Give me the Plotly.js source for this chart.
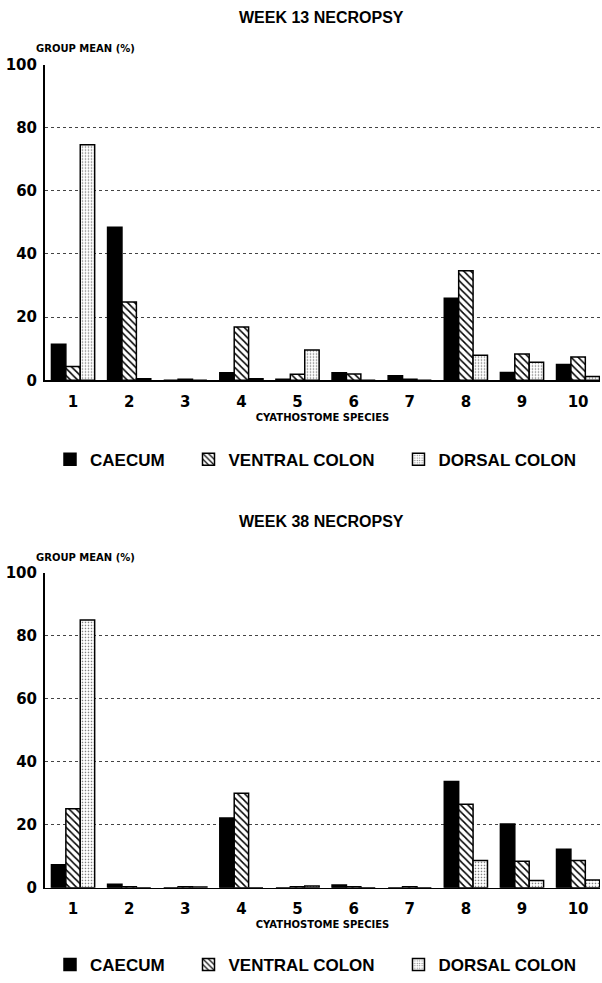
<!DOCTYPE html>
<html>
<head>
<meta charset="utf-8">
<script src="https://cdn.plot.ly/plotly-3.0.1.min.js"></script>
<style>html,body{margin:0;padding:0;background:#fff;}#chart{width:602px;height:983px;}</style>
</head>
<body>
<div id="chart"></div>
<script>
// ---- data ----
const species = [1, 2, 3, 4, 5, 6, 7, 8, 9, 10];
const tickLabels = ['1', '2', '3', '4', '5', '6', '7', '8', '9', '10'];
const seriesNames = ['CAECUM', 'VENTRAL COLON', 'DORSAL COLON'];
const titles = ['WEEK 13 NECROPSY', 'WEEK 38 NECROPSY'];

const caecum13  = [11.4, 48.5, 0,   2.4, 0.3, 2.4, 1.4, 26.0, 2.5, 5.0];
const ventral13 = [4.4,  24.8, 0.3, 16.9, 1.9, 2.0, 0.3, 34.7, 8.3, 7.4];
const dorsal13  = [74.6, 0.5,  0,   0.5, 9.6, 0,   0,   7.9,  5.7, 1.2];

const caecum38  = [7.3,  1.1,  0,   22.1, 0,   0.8, 0,   33.7, 20.2, 12.2];
const ventral38 = [25.1, 0.3,  0.3, 30.0, 0.3, 0.3, 0.3, 26.5, 8.4,  8.6];
const dorsal38  = [85.0, 0,    0.2, 0,    0.5, 0,   0,   8.6,  2.3,  2.4];

// ---- styling helpers ----
const H = 983, W = 602;
const py = p => 1 - p / H;
const pxX = p => p / W;
const pad = '\u00a0\u00a0\u00a0\u00a0';
const legendNames = [seriesNames[0] + pad, seriesNames[1] + pad, seriesNames[2]];

const styles = [
  {color: 'black', line: {color: 'black', width: 1.5}},
  {color: 'white', line: {color: 'black', width: 1.5},
   pattern: {shape: '\\', size: 5, solidity: 0.3, fgcolor: 'black', bgcolor: 'white'}},
  {color: 'white', line: {color: 'black', width: 1.5},
   pattern: {shape: '.', size: 3, solidity: 0.22, fgcolor: '#777', bgcolor: 'white'}}
];

function mk(i, y, xa, ya, leg) {
  return {
    type: 'bar', x: species, y: y, name: legendNames[i],
    xaxis: xa, yaxis: ya, legend: leg,
    marker: styles[i], hoverinfo: 'skip'
  };
}

const data = [
  mk(0, caecum13, 'x', 'y', 'legend'),
  mk(1, ventral13, 'x', 'y', 'legend'),
  mk(2, dorsal13, 'x', 'y', 'legend'),
  mk(0, caecum38, 'x2', 'y2', 'legend2'),
  mk(1, ventral38, 'x2', 'y2', 'legend2'),
  mk(2, dorsal38, 'x2', 'y2', 'legend2')
];

const tickFont = {family: 'DejaVu Sans', size: 15, color: 'black', weight: 'bold'};
const smallFont = {family: 'DejaVu Sans', size: 10, color: 'black', weight: 'bold'};
const bigFont = {family: 'Liberation Sans', size: 16, color: 'black', weight: 'bold'};
const legFont = {family: 'Liberation Sans', size: 17, color: 'black', weight: 'bold'};

function xax(anchor) {
  return {
    anchor: anchor, domain: [pxX(45), pxX(600)], range: [0.5, 10.39],
    tickvals: species, ticktext: tickLabels, ticks: '', showgrid: false,
    zeroline: false, showline: true, linecolor: 'black', linewidth: 1.5,
    tickfont: tickFont, ticklabelstandoff: 7, fixedrange: true,
    title: {text: 'CYATHOSTOME SPECIES', font: smallFont, standoff: 4}
  };
}
function yax(anchor, top, bottom) {
  return {
    anchor: anchor, domain: [py(bottom), py(top)], range: [0, 100], dtick: 20,
    showgrid: true, gridcolor: '#444', griddash: 'dot', gridwidth: 1,
    zeroline: false, showline: true, linecolor: 'black', linewidth: 2,
    ticks: '', tickfont: tickFont, ticklabelstandoff: 3, fixedrange: true
  };
}

const legendBase = {
  orientation: 'h', xanchor: 'left', yanchor: 'middle', x: pxX(50),
  font: legFont, bgcolor: 'rgba(0,0,0,0)', itemclick: false, itemdoubleclick: false
};

const layout = {
  width: W, height: H,
  margin: {l: 0, r: 0, t: 0, b: 0},
  paper_bgcolor: 'white', plot_bgcolor: 'white',
  barmode: 'group', bargap: 0.23, bargroupgap: 0,
  showlegend: true,
  xaxis: xax('y'), yaxis: yax('x', 65, 383),
  xaxis2: xax('y2'), yaxis2: yax('x2', 577, 894),
  legend: Object.assign({}, legendBase, {y: py(463)}),
  legend2: Object.assign({}, legendBase, {y: py(972)}),
  annotations: [
    {text: titles[0], xref: 'paper', yref: 'paper', x: pxX(322), y: py(18), showarrow: false, font: bigFont, xanchor: 'center', yanchor: 'middle'},
    {text: titles[1], xref: 'paper', yref: 'paper', x: pxX(322), y: py(525), showarrow: false, font: bigFont, xanchor: 'center', yanchor: 'middle'},
    {text: 'GROUP MEAN (%)', xref: 'paper', yref: 'paper', x: pxX(34), y: py(49), showarrow: false, font: smallFont, xanchor: 'left', yanchor: 'middle'},
    {text: 'GROUP MEAN (%)', xref: 'paper', yref: 'paper', x: pxX(34), y: py(561), showarrow: false, font: smallFont, xanchor: 'left', yanchor: 'middle'}
  ]
};

Plotly.newPlot('chart', data, layout, {staticPlot: true, displayModeBar: false});
</script>
</body>
</html>
